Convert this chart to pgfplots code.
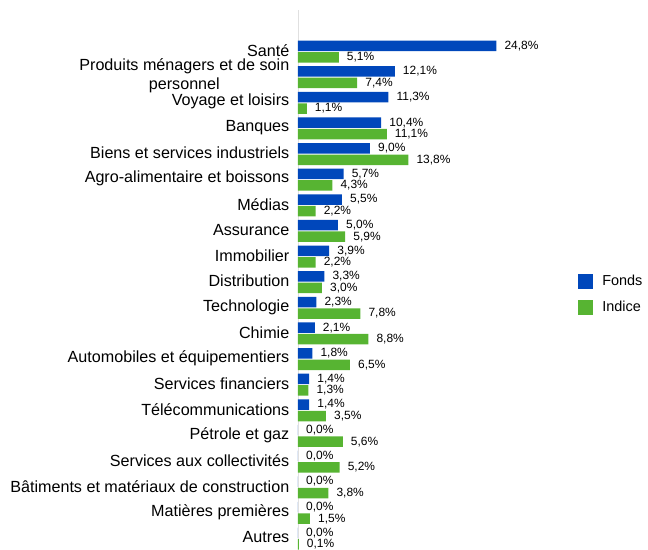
\documentclass[border=0pt]{standalone}
\usepackage{pgfplots}
\pgfplotsset{compat=1.18}
\usepackage{fontspec}
\setmainfont{Liberation Sans}
\definecolor{fonds}{RGB}{0,71,187}
\definecolor{indice}{RGB}{87,180,50}
\begin{document}
\begin{tikzpicture}
\begin{axis}[
  scale only axis,
  width=256bp, height=538bp,
  xbar,
  bar width=10.5bp,
  xmin=0, xmax=32,
  ymin=-1.62, ymax=19.37,
  y dir=reverse,
  axis x line=none,
  axis y line*=left,
  y axis line style={draw=black!12, line width=0.8pt, -},
  ytick={0,...,19},
  yticklabels={Santé,{Produits ménagers et de soin\\personnel},Voyage et loisirs,Banques,Biens et services industriels,Agro-alimentaire et boissons,Médias,Assurance,Immobilier,Distribution,Technologie,Chimie,Automobiles et équipementiers,Services financiers,Télécommunications,Pétrole et gaz,Services aux collectivités,Bâtiments et matériaux de construction,Matières premières,Autres},
  yticklabel style={font=\fontsize{16.2}{19}\selectfont, align=center, inner sep=0pt, xshift=-8.5bp, yshift=1bp},
  major tick length=0pt,
  nodes near coords={\pgfmathprintnumber[fixed,fixed zerofill,precision=1,use comma,assume math mode=true]{\pgfplotspointmeta}\%},
  nodes near coords align={horizontal},
  nodes near coords style={font=\fontsize{12}{14}\selectfont, text=black, inner sep=0pt, anchor=west, xshift=8bp},
  point meta=explicit,
  legend style={at={(1.094,0.472)}, anchor=west, draw=none, fill=none, font=\fontsize{14.5}{17}\selectfont, row sep=11bp, legend cell align=left, inner sep=0pt, nodes={inner sep=0pt}},
  legend image code/.code={\fill[#1] (0bp,-7.5bp) rectangle (15bp,7.5bp); \path (24bp,0bp);},
  clip=false,
]
\addplot[fill=fonds, draw=none, bar shift=5.75bp] table[x=v, y=i, meta=v] {
i v
0 24.8
1 12.1
2 11.3
3 10.4
4 9.0
5 5.7
6 5.5
7 5.0
8 3.9
9 3.3
10 2.3
11 2.1
12 1.8
13 1.4
14 1.4
15 0.0
16 0.0
17 0.0
18 0.0
19 0.0
};
\addplot[fill=indice, draw=none, bar shift=-5.75bp] table[x=v, y=i, meta=v] {
i v
0 5.1
1 7.4
2 1.1
3 11.1
4 13.8
5 4.3
6 2.2
7 5.9
8 2.2
9 3.0
10 7.8
11 8.8
12 6.5
13 1.3
14 3.5
15 5.6
16 5.2
17 3.8
18 1.5
19 0.1
};
\legend{Fonds,Indice}
\end{axis}
\path[use as bounding box] ([xshift=-298bp,yshift=-2bp]current axis.south west) rectangle ++(648bp,550bp);
\end{tikzpicture}
\end{document}
